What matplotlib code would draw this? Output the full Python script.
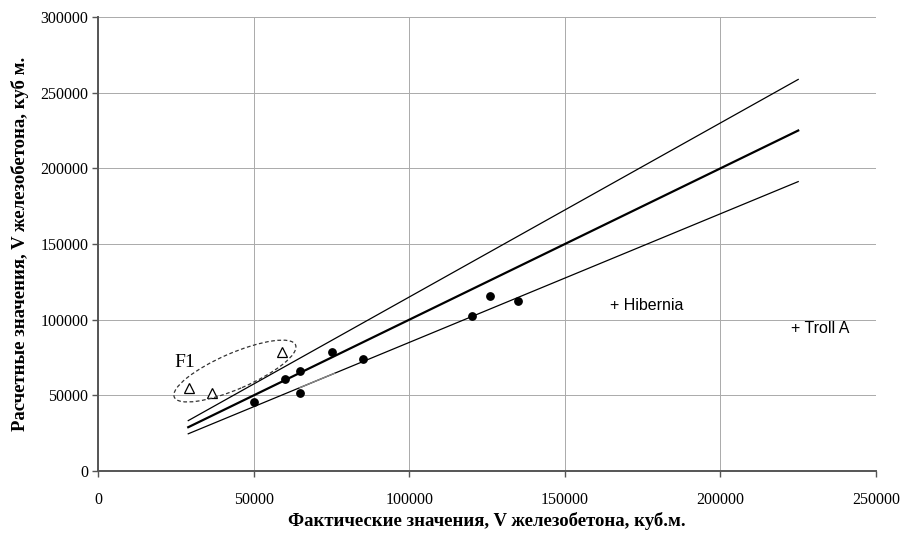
import matplotlib
matplotlib.use("Agg")
import matplotlib.pyplot as plt
from matplotlib.patches import Ellipse
from matplotlib.transforms import ScaledTranslation
import numpy as np

# ---- data ----
dots_x = [50000, 60200, 64900, 64900, 75100, 85200, 120200, 126000, 135100]
dots_y = [45500, 61000, 65900, 51800, 78500, 74300, 102700, 115900, 112400]
tri_x = [29300, 36600, 59000]
tri_y = [55100, 51400, 78900]
line_x = [29000, 225000]
line_mid = [29000, 225000]
line_up = [33350, 258750]
line_low = [24650, 191250]
grey_x = [64900, 76000]
grey_y = [55165, 64600]
named_x = [166400, 224600]
named_y = [109700, 94500]
named_labels = ["Hibernia", "Troll A"]
ellipse_center = (44000, 66100)
xticks = [0, 50000, 100000, 150000, 200000, 250000]
yticks = [0, 50000, 100000, 150000, 200000, 250000, 300000]

serif = "Liberation Serif"
sans = "Liberation Sans"

fig = plt.figure(figsize=(9.01, 5.41), dpi=100)
ax = fig.add_axes([98/901, 1-471.1/541, 778/901, 454.1/541])
ax.set_xlim(0, 250000)
ax.set_ylim(0, 300000)

ax.set_xticks(xticks)
ax.set_yticks(yticks)
ax.set_xticklabels([str(v) for v in xticks], fontfamily=serif, fontsize=11.5)
ax.set_yticklabels([str(v) for v in yticks], fontfamily=serif, fontsize=11.5)
ax.tick_params(axis='x', direction='out', length=4, width=1, color='#555555', pad=11)
ax.tick_params(axis='y', direction='out', length=4, width=1, color='#555555', pad=3)

ax.grid(True, color='#aaaaaa', linewidth=0.7, linestyle='-')
ax.set_axisbelow(True)
for s in ['top', 'right']:
    ax.spines[s].set_visible(False)
for s in ['left', 'bottom']:
    ax.spines[s].set_color('#555555')
    ax.spines[s].set_linewidth(1.4)

ax.plot(line_x, line_up, color='black', lw=0.9, zorder=3)
ax.plot(line_x, line_low, color='black', lw=0.9, zorder=3)
ax.plot(line_x, line_mid, color='black', lw=1.6, zorder=3)
ax.plot(grey_x, grey_y, color='#888888', lw=1.0, zorder=3.5)

ax.plot(dots_x, dots_y, 'o', color='black', markersize=5.3, zorder=4)
ax.plot(tri_x, tri_y, '^', markerfacecolor='white', markeredgecolor='black',
        markeredgewidth=0.9, markersize=7.5, zorder=4)

for x, y, lab in zip(named_x, named_y, named_labels):
    ax.annotate("+ " + lab, (x, y), xytext=(-4, 0), textcoords='offset points',
                ha='left', va='center', fontfamily=sans, fontsize=11.5, color='black')

# dashed ellipse (size in inches at 100 dpi)
trans = fig.dpi_scale_trans + ScaledTranslation(ellipse_center[0], ellipse_center[1], ax.transData)
ell = Ellipse((0, 0), width=1.32, height=0.36, angle=23.3, transform=trans,
              fill=False, edgecolor='#333333', linestyle=(0, (3, 2)), lw=0.9, zorder=5)
ax.add_patch(ell)
ax.text(28000, 72000, "F1", fontfamily=serif, fontsize=14, ha='center', va='center')

ax.set_xlabel("Фактические значения, V железобетона, куб.м.", fontfamily=serif,
              fontsize=13.5, fontweight='bold', labelpad=3)
ax.set_ylabel("Расчетные значения, V железобетона, куб м.", fontfamily=serif,
              fontsize=13.5, fontweight='bold', labelpad=8)

fig.savefig("out.png", dpi=100)
